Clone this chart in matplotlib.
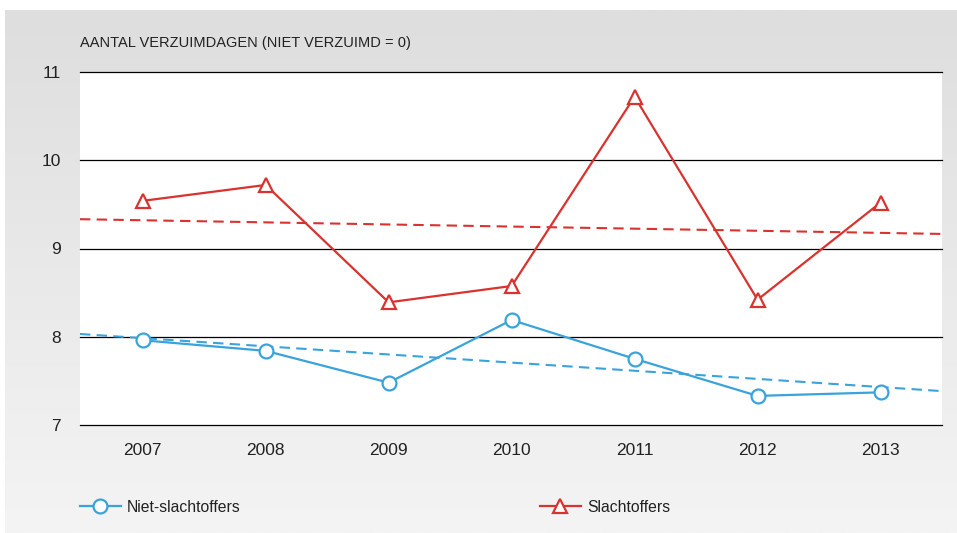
import numpy as np
import matplotlib.pyplot as plt
from matplotlib.lines import Line2D

plt.rcParams['font.family'] = ['Liberation Sans', 'DejaVu Sans']

# data
years = ['2007', '2008', '2009', '2010', '2011', '2012', '2013']
niet_slachtoffers = [7.96, 7.84, 7.48, 8.19, 7.75, 7.33, 7.37]
slachtoffers = [9.54, 9.72, 8.39, 8.575, 10.72, 8.42, 9.52]
# trend lines (value at 2007, value at 2013)
trend_niet = [7.984, 7.43]
trend_slacht = [9.32, 9.177]

blue = '#3aa3dc'
red = '#d8332f'

fig = plt.figure(figsize=(9.57, 5.33), dpi=100)
fig.patch.set_facecolor('white')

# grey gradient panel behind everything
bg = fig.add_axes([0, 0, 1, 1], zorder=-10)
grad = np.linspace(0, 1, 256).reshape(-1, 1)
bg.imshow(grad, cmap=plt.cm.colors.LinearSegmentedColormap.from_list('g', ['#dedede', '#f4f4f4']),
          aspect='auto', extent=[5 / 957, 1, 0, 1 - 10 / 533], vmin=0, vmax=1)
bg.set_xlim(0, 1)
bg.set_ylim(0, 1)
bg.axis('off')

ax = fig.add_axes([80 / 957, 1 - 425 / 533, 862 / 957, 353 / 533])
ax.set_facecolor('white')
x = np.arange(len(years))

ax.axline((0, trend_slacht[0]), (6, trend_slacht[1]), color=red, lw=1.5,
          dashes=(5, 3), zorder=2)
ax.axline((0, trend_niet[0]), (6, trend_niet[1]), color=blue, lw=1.5,
          dashes=(5, 3), zorder=2)

ax.plot(x, niet_slachtoffers, color=blue, lw=1.6, marker='o', ms=10,
        mfc='white', mec=blue, mew=1.6, zorder=4, clip_on=False)
ax.plot(x, slachtoffers, color=red, lw=1.6, marker='^', ms=10,
        mfc='white', mec=red, mew=1.6, zorder=4, clip_on=False)

ax.set_xlim(-0.51, 6.5)
ax.set_ylim(7, 11)
ax.set_yticks([7, 8, 9, 10, 11])
ax.set_xticks(x)
ax.set_xticklabels(years)
ax.yaxis.grid(True, color='black', lw=0.9)
for gl in ax.get_ygridlines():
    gl.set_clip_on(False)
ax.set_axisbelow(True)
for s in ax.spines.values():
    s.set_visible(False)
ax.tick_params(axis='both', length=0, labelsize=12.5, colors='#222222')
ax.tick_params(axis='x', pad=13)
ax.tick_params(axis='y', pad=14)

fig.text(80 / 957, 1 - 43 / 533, 'AANTAL VERZUIMDAGEN (NIET VERZUIMD = 0)',
         fontsize=10.5, color='#222222', va='center', ha='left')

h1 = Line2D([], [], color=blue, lw=1.6, marker='o', ms=10, mfc='white', mec=blue, mew=1.6)
h2 = Line2D([], [], color=red, lw=1.6, marker='^', ms=10, mfc='white', mec=red, mew=1.6)
for h, lab, xpos in [(h1, 'Niet-slachtoffers', 80), (h2, 'Slachtoffers', 540)]:
    leg = fig.legend([h], [lab], loc='center left', bbox_to_anchor=(xpos / 957, 1 - 507 / 533),
                     frameon=False, fontsize=11.3, borderpad=0, borderaxespad=0,
                     handlelength=2.6, handletextpad=0.4)
    for t in leg.get_texts():
        t.set_color('#222222')

fig.savefig('out.png', dpi=100)
